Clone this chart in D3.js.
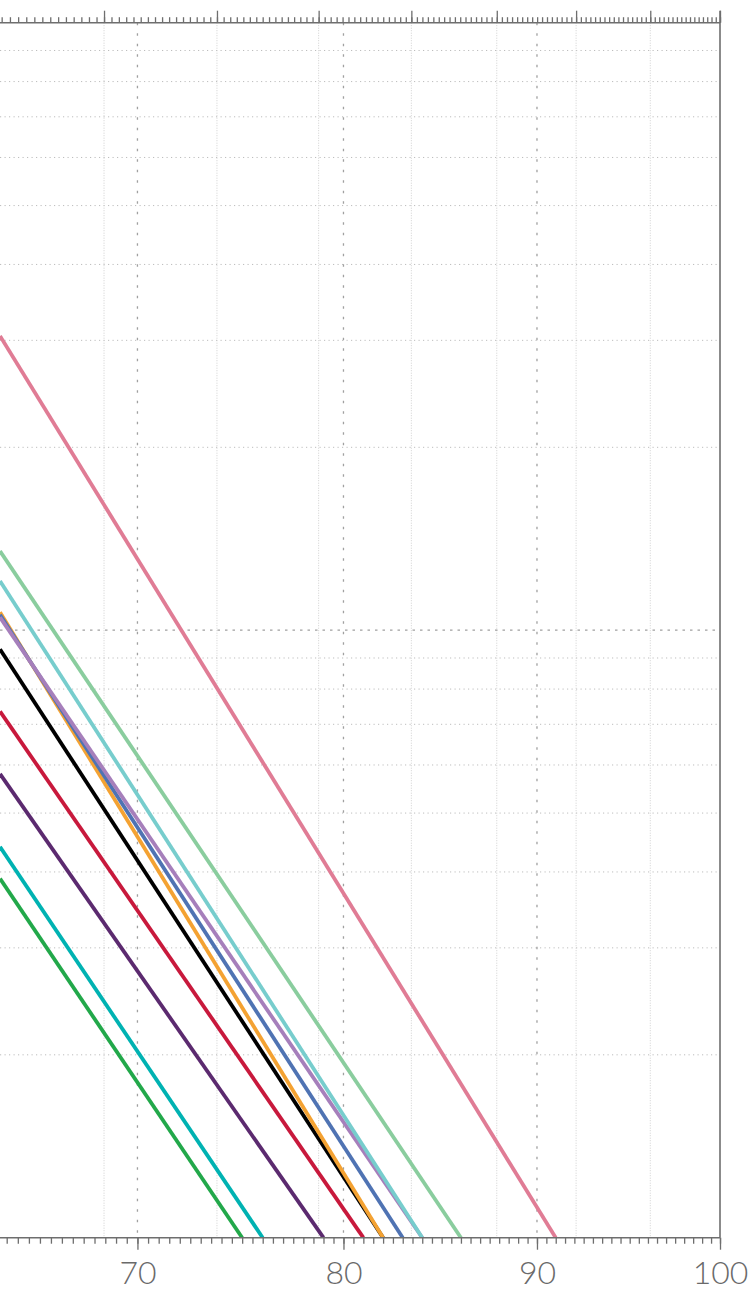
<!DOCTYPE html>
<html>
<head>
<meta charset="utf-8">
<script src="https://cdn.jsdelivr.net/npm/d3@7"></script>
<style>
  body { margin: 0; background: #fff; }
  svg { display: block; }
</style>
</head>
<body>
<div id="chart"></div>
<script>
// series, drawn in this order (last on top)
const seriesNames = ["s75", "s76", "s79", "s81", "s82a", "s82b", "s83", "s84a", "s84b", "s86", "s91"];
const seriesColors = ["#22a84a", "#00b2b2", "#5b2a6f", "#c8193c", "#000000", "#f4a232", "#4f73b3", "#a67fbb", "#77cdcd", "#8acd9e", "#e07c95"];
// value at the left edge of the visible window
const startValues = [3.9, 4.4, 5.8, 7.35, 9.3, 10.7, 10.6, 10.5, 12.05, 13.5, 30.5];
// x where each line reaches the bottom of the chart
const endAges = [75, 76, 79, 81, 82, 82, 83, 84, 84, 86, 91];

const xMin = 63.7, xMax = 100;
const yMin = 1, yMax = 100;
const bottomTicks = [70, 80, 90, 100];
const yGridMajor = [10];
const yGridMinor = [2, 3, 4, 5, 6, 7, 8, 9, 20, 30, 40, 50, 60, 70, 80, 90];
const topStep = 759.4;

const W = 750, H = 1291;
const margin = { top: 22.7, right: 30, bottom: 53.3, left: 0 };
const width = W - margin.left - margin.right;
const height = H - margin.top - margin.bottom;

const svg = d3.select("#chart").append("svg")
    .attr("width", W)
    .attr("height", H);

const g = svg.append("g")
    .attr("transform", `translate(${margin.left},${margin.top})`);

const x = d3.scaleSqrt().domain([xMin, xMax]).range([0, width]);
const y = d3.scaleLog().domain([yMin, yMax]).range([height, 0]);
// secondary top scale (square of the bottom unit)
const xTop = d3.scalePow().exponent(0.25).domain([xMin * xMin, xMax * xMax]).range([0, width]);

const topMajor = d3.range(xMax * xMax, xMin * xMin, -topStep);
const topMinor = d3.range(xMax * xMax, xMin * xMin, -topStep / 16);
const bottomMinor = d3.range(64, 100.01, 0.5);

// grid
g.append("g").selectAll("line")
    .data(yGridMinor)
    .join("line")
    .attr("x1", 0).attr("x2", width)
    .attr("y1", d => y(d)).attr("y2", d => y(d))
    .attr("stroke", "#bdbdbd")
    .attr("stroke-width", 1)
    .attr("stroke-dasharray", "1.2,3.3");

g.append("g").selectAll("line")
    .data(topMajor.filter(d => d < xMax * xMax))
    .join("line")
    .attr("x1", d => xTop(d)).attr("x2", d => xTop(d))
    .attr("y1", 0).attr("y2", height)
    .attr("stroke", "#d0d0d0")
    .attr("stroke-width", 1)
    .attr("stroke-dasharray", "1,1.5");

g.append("g").selectAll("line")
    .data(yGridMajor)
    .join("line")
    .attr("x1", 0).attr("x2", width)
    .attr("y1", d => y(d)).attr("y2", d => y(d))
    .attr("stroke", "#a0a0a0")
    .attr("stroke-width", 1.3)
    .attr("stroke-dasharray", "2.5,5");

g.append("g").selectAll("line")
    .data(bottomTicks.filter(d => d < xMax))
    .join("line")
    .attr("x1", d => x(d)).attr("x2", d => x(d))
    .attr("y1", 0).attr("y2", height)
    .attr("stroke", "#a0a0a0")
    .attr("stroke-width", 1.3)
    .attr("stroke-dasharray", "2.5,8");

// lines
g.append("defs").append("clipPath").attr("id", "plot-clip")
    .append("rect").attr("width", width).attr("height", height);

const line = d3.line().x(d => x(d[0])).y(d => y(d[1]));

g.append("g")
    .attr("clip-path", "url(#plot-clip)")
    .selectAll("path")
    .data(seriesNames.map((name, i) => ({
        name,
        color: seriesColors[i],
        points: [[xMin, startValues[i]], [endAges[i], yMin]]
    })))
    .join("path")
    .attr("d", d => line(d.points))
    .attr("fill", "none")
    .attr("stroke", d => d.color)
    .attr("stroke-width", 3.8);

// axes
const axisColor = "#6e6e6e";

const bottomMinorAxis = g.append("g")
    .attr("transform", `translate(0,${height})`)
    .call(d3.axisBottom(x).tickValues(bottomMinor).tickSize(6).tickFormat(""));

const bottomAxis = g.append("g")
    .attr("transform", `translate(0,${height})`)
    .call(d3.axisBottom(x).tickValues(bottomTicks).tickSize(12).tickPadding(11.5).tickFormat(d3.format("d")));

const topMinorAxis = g.append("g")
    .call(d3.axisTop(xTop).tickValues(topMinor).tickSize(5.5).tickFormat(""));

const topAxis = g.append("g")
    .call(d3.axisTop(xTop).tickValues(topMajor).tickSize(12).tickFormat(""));

[bottomMinorAxis, bottomAxis, topMinorAxis, topAxis].forEach(a => {
    a.select(".domain").remove();
    a.selectAll(".tick line").attr("stroke", axisColor).attr("stroke-width", 1.3);
});

bottomAxis.selectAll("text")
    .attr("fill", "#6a6a6a")
    .style("font-family", "Lato, 'Open Sans', sans-serif")
    .style("font-weight", 300)
    .style("font-size", "32px");

// axis lines
g.append("line")
    .attr("x1", 0).attr("x2", width)
    .attr("y1", height).attr("y2", height)
    .attr("stroke", axisColor).attr("stroke-width", 1.6);

g.append("line")
    .attr("x1", 0).attr("x2", width)
    .attr("y1", 0).attr("y2", 0)
    .attr("stroke", axisColor).attr("stroke-width", 1.6);

g.append("line")
    .attr("x1", width).attr("x2", width)
    .attr("y1", -12).attr("y2", height)
    .attr("stroke", axisColor).attr("stroke-width", 1.6);
</script>
</body>
</html>
